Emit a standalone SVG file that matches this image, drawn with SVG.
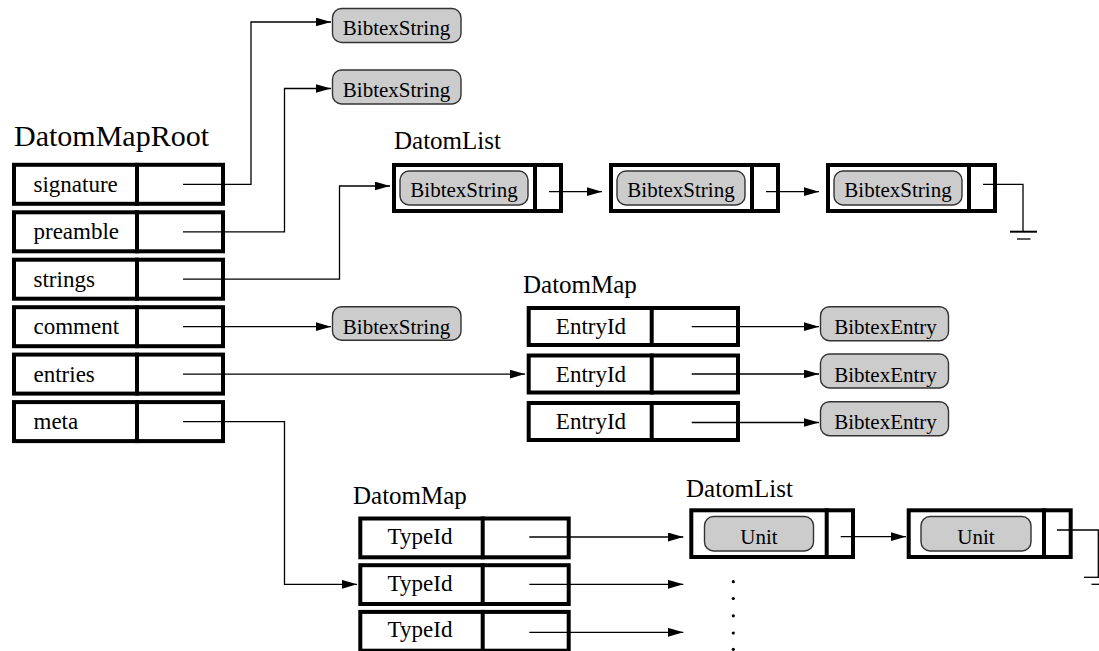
<svg xmlns="http://www.w3.org/2000/svg" width="1099" height="651" viewBox="0 0 1099 651">
  <defs>
    <marker id="arrow" markerUnits="userSpaceOnUse" markerWidth="17" markerHeight="10" refX="15.5" refY="4.5" orient="auto">
      <path d="M0,0 L15.5,4.5 L0,9 z" fill="#000"/>
    </marker>
    <style>
      .cell { fill: #fff; stroke: #000; stroke-width: 4; }
      .div { stroke: #000; stroke-width: 4; }
      .pill { fill: #cccccc; stroke: #333; stroke-width: 1.4; }
      .conn { fill: none; stroke: #000; stroke-width: 1.3; }
      .arr { fill: none; stroke: #000; stroke-width: 1.3; marker-end: url(#arrow); }
      .title { font-family: "Liberation Serif", "Times New Roman", serif; font-size: 25px; fill: #000; }
      .lbl { font-family: "Liberation Serif", "Times New Roman", serif; font-size: 23px; fill: #000; }
      .plbl { font-family: "Liberation Serif", "Times New Roman", serif; font-size: 21px; fill: #000; text-anchor: middle; }
      .mid { text-anchor: middle; }
      .gnd { stroke: #000; fill: none; }
    </style>
  </defs>

  <!-- Root map -->
  <g id="datom-map-root">
    <text class="title" x="14" y="145.5" style="font-size:30px">DatomMapRoot</text>
    <g id="root-signature" transform="translate(0,162.8)">
      <rect class="cell" x="14" y="2" width="209" height="39"/>
      <line class="div" x1="137" y1="0" x2="137" y2="43"/>
      <text class="lbl" x="33.5" y="29">signature</text>
    </g>
    <g id="root-preamble" transform="translate(0,210.3)">
      <rect class="cell" x="14" y="2" width="209" height="39"/>
      <line class="div" x1="137" y1="0" x2="137" y2="43"/>
      <text class="lbl" x="33.5" y="29">preamble</text>
    </g>
    <g id="root-strings" transform="translate(0,257.7)">
      <rect class="cell" x="14" y="2" width="209" height="39"/>
      <line class="div" x1="137" y1="0" x2="137" y2="43"/>
      <text class="lbl" x="33.5" y="29">strings</text>
    </g>
    <g id="root-comment" transform="translate(0,305.2)">
      <rect class="cell" x="14" y="2" width="209" height="39"/>
      <line class="div" x1="137" y1="0" x2="137" y2="43"/>
      <text class="lbl" x="33.5" y="29">comment</text>
    </g>
    <g id="root-entries" transform="translate(0,352.6)">
      <rect class="cell" x="14" y="2" width="209" height="39"/>
      <line class="div" x1="137" y1="0" x2="137" y2="43"/>
      <text class="lbl" x="33.5" y="29">entries</text>
    </g>
    <g id="root-meta" transform="translate(0,400.1)">
      <rect class="cell" x="14" y="2" width="209" height="39"/>
      <line class="div" x1="137" y1="0" x2="137" y2="43"/>
      <text class="lbl" x="33.5" y="29">meta</text>
    </g>
  </g>

  <!-- Standalone strings -->
  <g id="signature-string">
    <rect class="pill" x="332.5" y="8.5" width="128.5" height="34" rx="9"/>
    <text class="plbl" x="396.5" y="35">BibtexString</text>
  </g>
  <g id="preamble-string">
    <rect class="pill" x="332.5" y="70" width="128.5" height="34" rx="9"/>
    <text class="plbl" x="396.5" y="96.5">BibtexString</text>
  </g>
  <g id="comment-string">
    <rect class="pill" x="332.5" y="306.7" width="128.5" height="33.5" rx="9"/>
    <text class="plbl" x="396.5" y="333.5">BibtexString</text>
  </g>

  <!-- String list -->
  <g id="string-list">
    <text class="title" x="394" y="149">DatomList</text>
    <g id="string-list-1" transform="translate(392,0)">
      <rect class="cell" x="2" y="165" width="167" height="46"/>
      <line class="div" x1="143" y1="163" x2="143" y2="213"/>
      <rect class="pill" x="8" y="171" width="128" height="34" rx="9"/>
      <text class="plbl" x="72" y="197">BibtexString</text>
    </g>
    <g id="string-list-2" transform="translate(609,0)">
      <rect class="cell" x="2" y="165" width="167" height="46"/>
      <line class="div" x1="143" y1="163" x2="143" y2="213"/>
      <rect class="pill" x="8" y="171" width="128" height="34" rx="9"/>
      <text class="plbl" x="72" y="197">BibtexString</text>
    </g>
    <g id="string-list-3" transform="translate(826,0)">
      <rect class="cell" x="2" y="165" width="167" height="46"/>
      <line class="div" x1="143" y1="163" x2="143" y2="213"/>
      <rect class="pill" x="8" y="171" width="128" height="34" rx="9"/>
      <text class="plbl" x="72" y="197">BibtexString</text>
    </g>
  </g>

  <!-- Entry map -->
  <g id="entry-map">
    <text class="title" x="523" y="293">DatomMap</text>
    <g id="entry-row-1" transform="translate(0,306)">
      <rect class="cell" x="528.7" y="2" width="209.3" height="37"/>
      <line class="div" x1="651.7" y1="0" x2="651.7" y2="41"/>
      <text class="lbl mid" x="591" y="28">EntryId</text>
    </g>
    <g id="entry-row-2" transform="translate(0,353.5)">
      <rect class="cell" x="528.7" y="2" width="209.3" height="37"/>
      <line class="div" x1="651.7" y1="0" x2="651.7" y2="41"/>
      <text class="lbl mid" x="591" y="28">EntryId</text>
    </g>
    <g id="entry-row-3" transform="translate(0,401)">
      <rect class="cell" x="528.7" y="2" width="209.3" height="37"/>
      <line class="div" x1="651.7" y1="0" x2="651.7" y2="41"/>
      <text class="lbl mid" x="591" y="28">EntryId</text>
    </g>
  </g>
  <g id="entries">
    <g id="entry-1">
      <rect class="pill" x="820.5" y="306.7" width="128" height="34" rx="9"/>
      <text class="plbl" x="885.5" y="334">BibtexEntry</text>
    </g>
    <g id="entry-2">
      <rect class="pill" x="820.5" y="354" width="128" height="34" rx="9"/>
      <text class="plbl" x="885.5" y="381.5">BibtexEntry</text>
    </g>
    <g id="entry-3">
      <rect class="pill" x="820.5" y="401.7" width="128" height="34" rx="9"/>
      <text class="plbl" x="885.5" y="429">BibtexEntry</text>
    </g>
  </g>

  <!-- Type map -->
  <g id="type-map">
    <text class="title" x="353" y="503.5">DatomMap</text>
    <g id="type-row-1" transform="translate(0,516.5)">
      <rect class="cell" x="360.3" y="2" width="208.4" height="38.8"/>
      <line class="div" x1="482.7" y1="0" x2="482.7" y2="42.8"/>
      <text class="lbl mid" x="420" y="27.5">TypeId</text>
    </g>
    <g id="type-row-2" transform="translate(0,563.2)">
      <rect class="cell" x="360.3" y="2" width="208.4" height="38.8"/>
      <line class="div" x1="482.7" y1="0" x2="482.7" y2="42.8"/>
      <text class="lbl mid" x="420" y="27.5">TypeId</text>
    </g>
    <g id="type-row-3" transform="translate(0,609.9)">
      <rect class="cell" x="360.3" y="2" width="208.4" height="38.8"/>
      <line class="div" x1="482.7" y1="0" x2="482.7" y2="42.8"/>
      <text class="lbl mid" x="420" y="27.5">TypeId</text>
    </g>
  </g>

  <!-- Unit list -->
  <g id="unit-list">
    <text class="title" x="686" y="497">DatomList</text>
    <g id="unit-list-1">
      <rect class="cell" x="691.3" y="510.3" width="161.7" height="46.7"/>
      <line class="div" x1="826.7" y1="508.3" x2="826.7" y2="559"/>
      <rect class="pill" x="704.5" y="516.5" width="109" height="34.5" rx="9"/>
      <text class="plbl" x="759" y="543.5">Unit</text>
    </g>
    <g id="unit-list-2">
      <rect class="cell" x="908.7" y="510.3" width="162" height="46.7"/>
      <line class="div" x1="1044" y1="508.3" x2="1044" y2="559"/>
      <rect class="pill" x="921" y="516.5" width="110" height="34.5" rx="9"/>
      <text class="plbl" x="976" y="543.5">Unit</text>
    </g>
  </g>
  <g id="ellipsis" fill="#000">
    <circle cx="733.3" cy="581.7" r="1.6"/>
    <circle cx="733.3" cy="598.5" r="1.6"/>
    <circle cx="733.3" cy="615.8" r="1.6"/>
    <circle cx="733.3" cy="633" r="1.6"/>
    <circle cx="733.3" cy="649.3" r="1.6"/>
  </g>

  <!-- Connectors -->
  <g id="connectors">
    <path class="arr" d="M183,184.3 H251 V22 H331"/>
    <path class="arr" d="M183,231.8 H284.5 V88.5 H331"/>
    <path class="arr" d="M183,279.2 H339.5 V186 H390"/>
    <path class="arr" d="M183,326.7 H331"/>
    <path class="arr" d="M183,374.1 H525"/>
    <path class="arr" d="M183,421.6 H284.5 V584.3 H357"/>

    <path class="arr" d="M549,191.7 H602"/>
    <path class="arr" d="M766,191.7 H819"/>
    <path class="conn" d="M983,184.3 H1023 V231.7"/>
    <line class="gnd" x1="1010" y1="231.7" x2="1037" y2="231.7" stroke-width="2"/>
    <line class="gnd" x1="1017" y1="239" x2="1030.5" y2="239" stroke-width="1.3" stroke="#555"/>

    <path class="arr" d="M691.7,326.7 H819"/>
    <path class="arr" d="M691.7,374 H819"/>
    <path class="arr" d="M691.7,422.5 H819"/>

    <path class="arr" d="M529.3,537 H683.3"/>
    <path class="arr" d="M529.3,584.3 H683.3"/>
    <path class="arr" d="M529.3,632.3 H683.3"/>

    <path class="arr" d="M840.7,536.7 H906"/>
    <path class="conn" d="M1057,530 H1098.3 V577.3" stroke="#333"/>
    <line class="gnd" x1="1084" y1="577.3" x2="1099" y2="577.3" stroke-width="1.3"/>
    <line class="gnd" x1="1091.5" y1="584.3" x2="1099" y2="584.3" stroke-width="1.3"/>
  </g>
</svg>
